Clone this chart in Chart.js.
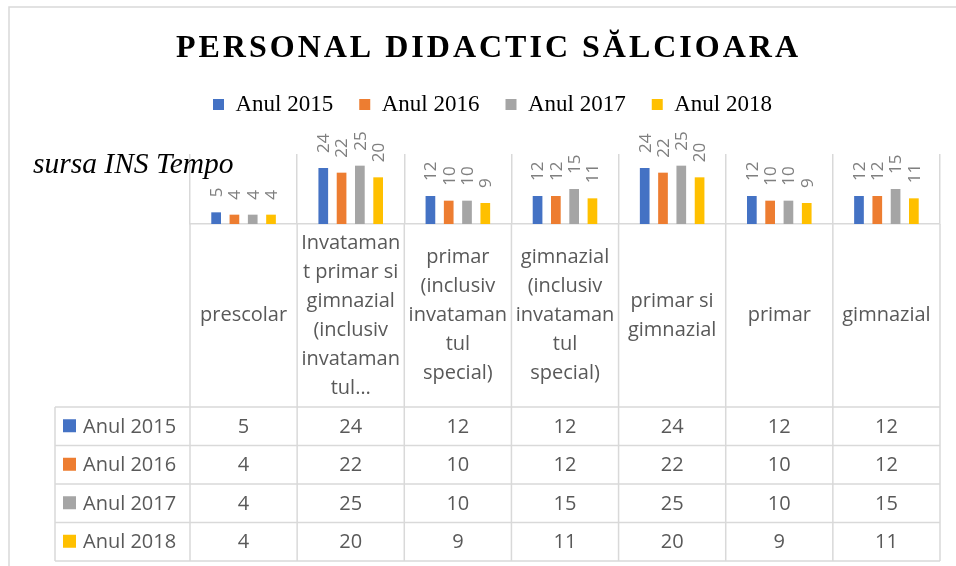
<!DOCTYPE html>
<html>
<head>
<meta charset="utf-8">
<script src="https://cdn.jsdelivr.net/npm/chart.js@4.4.1/dist/chart.umd.min.js"></script>
<style>
  html, body { margin: 0; padding: 0; background: #fff; }
</style>
</head>
<body>
<canvas id="chart" width="956" height="566"></canvas>
<script>
// Category names, already wrapped the way they show in the table header
const categories = [
    ['prescolar'],
    ['Invataman', 't primar si', 'gimnazial', '(inclusiv', 'invataman', 'tul…'],
    ['primar', '(inclusiv', 'invataman', 'tul', 'special)'],
    ['gimnazial', '(inclusiv', 'invataman', 'tul', 'special)'],
    ['primar si', 'gimnazial'],
    ['primar'],
    ['gimnazial']
];

const seriesNames = ['Anul 2015', 'Anul 2016', 'Anul 2017', 'Anul 2018'];
const anul2015 = [5, 24, 12, 12, 24, 12, 12];
const anul2016 = [4, 22, 10, 12, 22, 10, 12];
const anul2017 = [4, 25, 10, 15, 25, 10, 15];
const anul2018 = [4, 20, 9, 11, 20, 9, 11];
const seriesColors = ['#4472C4', '#ED7D31', '#A5A5A5', '#FFC000'];

const chartTitle = 'PERSONAL DIDACTIC SĂLCIOARA';
const sourceNote = 'sursa INS Tempo';

const tableFont = '20px "Open Sans"';
const textGrey = '#595959';
const lineGrey = '#d9d9d9';

// frame, title and the source note
const decorations = {
    id: 'decorations',
    beforeDraw(chart) {
        const ctx = chart.ctx;
        ctx.save();
        ctx.strokeStyle = lineGrey;
        ctx.lineWidth = 1.5;
        ctx.beginPath();
        ctx.moveTo(9, 566);
        ctx.lineTo(9, 7);
        ctx.lineTo(956, 7);
        ctx.stroke();
        ctx.restore();
    },
    afterDraw(chart) {
        const ctx = chart.ctx;
        ctx.save();
        ctx.fillStyle = '#000';
        ctx.font = 'bold 32px "Liberation Serif"';
        ctx.letterSpacing = '3px';
        ctx.textAlign = 'left';
        ctx.textBaseline = 'alphabetic';
        const w = ctx.measureText(chartTitle).width - 3;
        ctx.fillText(chartTitle, 487 - w / 2, 57);
        ctx.letterSpacing = '0px';
        ctx.font = 'italic 29.5px "Liberation Serif"';
        ctx.fillText(sourceNote, 33, 173);
        ctx.restore();
    }
};

// rotated value labels above each bar
const barLabels = {
    id: 'barLabels',
    afterDatasetsDraw(chart) {
        const ctx = chart.ctx;
        ctx.save();
        ctx.font = '17px "Open Sans"';
        ctx.fillStyle = '#7f7f7f';
        ctx.textAlign = 'left';
        ctx.textBaseline = 'middle';
        chart.data.datasets.forEach((ds, di) => {
            chart.getDatasetMeta(di).data.forEach((bar, i) => {
                ctx.save();
                ctx.translate(bar.x, bar.y - 15);
                ctx.rotate(-Math.PI / 2);
                ctx.fillText(String(ds.data[i]), 0, 1);
                ctx.restore();
            });
        });
        ctx.restore();
    }
};

// data table under the plot: header with category names + one row per year
const dataTable = {
    id: 'dataTable',
    afterDraw(chart) {
        const ctx = chart.ctx;
        const x = chart.scales.x;
        const top = chart.chartArea.bottom;
        const headerBottom = 407;
        const rowH = 38.5;
        const tableLeft = 55;
        const step = x.width / categories.length;
        const edges = categories.map((c, i) => x.left + i * step).concat([x.right]);
        const tableBottom = headerBottom + rowH * chart.data.datasets.length;

        ctx.save();
        ctx.strokeStyle = lineGrey;
        ctx.lineWidth = 1.5;
        ctx.beginPath();
        edges.forEach(ex => { ctx.moveTo(ex, top); ctx.lineTo(ex, tableBottom); });
        ctx.moveTo(tableLeft, headerBottom);
        ctx.lineTo(tableLeft, tableBottom);
        for (let r = 0; r <= chart.data.datasets.length; r++) {
            const y = headerBottom + r * rowH;
            ctx.moveTo(tableLeft, y);
            ctx.lineTo(x.right, y);
        }
        ctx.stroke();

        ctx.font = tableFont;
        ctx.fillStyle = textGrey;
        ctx.textAlign = 'center';
        ctx.textBaseline = 'middle';

        // header
        const lineH = 29;
        const midY = (top + headerBottom) / 2;
        categories.forEach((lines, i) => {
            const cx = x.getPixelForValue(i);
            const y0 = midY - (lines.length - 1) * lineH / 2;
            lines.forEach((t, k) => ctx.fillText(t, cx, y0 + k * lineH));
        });

        // rows
        chart.data.datasets.forEach((ds, r) => {
            const cy = headerBottom + r * rowH + rowH / 2;
            ctx.fillStyle = ds.backgroundColor;
            ctx.fillRect(63, cy - 7, 13, 13);
            ctx.fillStyle = textGrey;
            ctx.textAlign = 'left';
            ctx.fillText(ds.label, 83, cy + 1);
            ctx.textAlign = 'center';
            ds.data.forEach((v, i) => ctx.fillText(String(v), x.getPixelForValue(i), cy + 1));
        });
        ctx.restore();
    }
};

// extra space between the legend and the plot
const legendGap = {
    id: 'legendGap',
    beforeInit(chart) {
        const fit = chart.legend.fit;
        chart.legend.fit = function () {
            fit.call(this);
            this.height += 28;
        };
    }
};

const seriesData = [anul2015, anul2016, anul2017, anul2018];

new Chart(document.getElementById('chart'), {
    type: 'bar',
    data: {
        labels: categories,
        datasets: seriesNames.map((name, i) => ({
            label: name,
            data: seriesData[i],
            backgroundColor: seriesColors[i],
            borderWidth: 0,
            categoryPercentage: 0.683,
            barPercentage: 0.53
        }))
    },
    options: {
        responsive: false,
        animation: false,
        layout: { padding: { left: 45, right: 16, top: 67, bottom: 342 } },
        plugins: {
            title: { display: false },
            tooltip: { enabled: false },
            legend: {
                position: 'top',
                labels: {
                    color: '#000',
                    font: { family: '"Liberation Serif"', size: 23 },
                    boxWidth: 11,
                    boxHeight: 11,
                    padding: 26
                }
            }
        },
        scales: {
            x: {
                ticks: { display: false },
                grid: { offset: true, color: lineGrey, lineWidth: 1.5, drawTicks: false },
                border: { display: true, color: lineGrey, width: 1.5 }
            },
            y: {
                min: 0,
                max: 30,
                ticks: { display: false },
                grid: { display: false },
                border: { display: false },
                afterFit(scale) { scale.width = 145; }
            }
        }
    },
    plugins: [legendGap, decorations, barLabels, dataTable]
});
</script>
</body>
</html>
